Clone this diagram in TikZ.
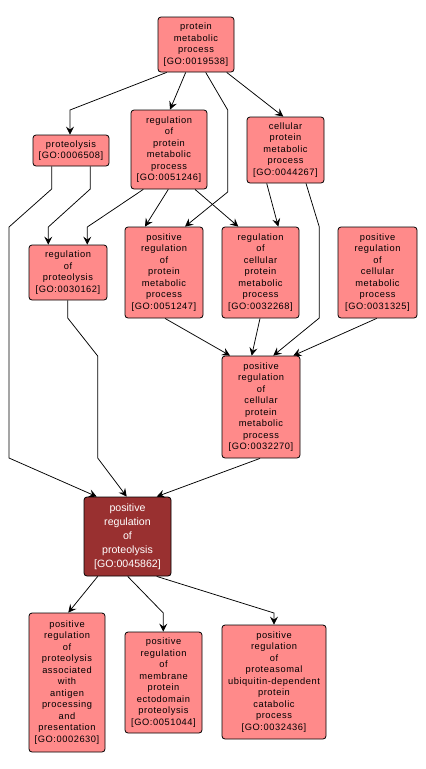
\documentclass[tikz,border=0pt]{standalone}
\usepackage{fontspec}
\setmainfont{Liberation Sans}
\newfontfamily\gofont[LetterSpace=6]{Liberation Sans}
\usetikzlibrary{arrows.meta}
\definecolor{golight}{RGB}{255,138,138}
\definecolor{godarkfill}{RGB}{153,48,48}
\tikzset{
  gobox/.style={draw=black, line width=0.8pt, rounded corners=3pt, fill=golight, align=center, inner sep=0pt, font=\gofont\fontsize{9.3}{11.5}\selectfont, text=black},
  godark/.style={gobox, fill=godarkfill, text=white, font=\fontsize{10.6}{14}\selectfont},
  goarrow/.style={draw=black, line width=0.75pt, -{Stealth[length=8pt,width=8pt,inset=3pt]}}
}
\begin{document}
\begin{tikzpicture}[x=1pt,y=-1pt]
\useasboundingbox (0,0) rectangle (426,769);
\node[gobox, minimum width=76pt, minimum height=55pt] (n19538) at (196,44.5) {protein\\metabolic\\process\\{[GO:0019538]}};
\node[gobox, minimum width=76pt, minimum height=31pt] (n6508) at (71,150.5) {proteolysis\\{[GO:0006508]}};
\node[gobox, minimum width=76pt, minimum height=79pt] (n51246) at (169,149.5) {regulation\\of\\protein\\metabolic\\process\\{[GO:0051246]}};
\node[gobox, minimum width=77pt, minimum height=66pt] (n44267) at (285.5,150) {cellular\\protein\\metabolic\\process\\{[GO:0044267]}};
\node[gobox, minimum width=78pt, minimum height=55pt] (n30162) at (68,272.5) {regulation\\of\\proteolysis\\{[GO:0030162]}};
\node[gobox, minimum width=78pt, minimum height=91pt] (n51247) at (164,272.5) {positive\\regulation\\of\\protein\\metabolic\\process\\{[GO:0051247]}};
\node[gobox, minimum width=77pt, minimum height=91pt] (n32268) at (260.5,272.5) {regulation\\of\\cellular\\protein\\metabolic\\process\\{[GO:0032268]}};
\node[gobox, minimum width=79pt, minimum height=91pt] (n31325) at (377.5,272.5) {positive\\regulation\\of\\cellular\\metabolic\\process\\{[GO:0031325]}};
\node[gobox, minimum width=78pt, minimum height=102pt] (n32270) at (261,407) {positive\\regulation\\of\\cellular\\protein\\metabolic\\process\\{[GO:0032270]}};
\node[godark, minimum width=87pt, minimum height=79pt] (n45862) at (127.5,536.5) {positive\\regulation\\of\\proteolysis\\{[GO:0045862]}};
\node[gobox, minimum width=76pt, minimum height=139pt] (n2630) at (67,682.5) {positive\\regulation\\of\\proteolysis\\associated\\with\\antigen\\processing\\and\\presentation\\{[GO:0002630]}};
\node[gobox, minimum width=77pt, minimum height=101pt] (n51044) at (163.5,682.5) {positive\\regulation\\of\\membrane\\protein\\ectodomain\\proteolysis\\{[GO:0051044]}};
\node[gobox, minimum width=104pt, minimum height=114pt] (n32436) at (274,682) {positive\\regulation\\of\\proteasomal\\ubiquitin-dependent\\protein\\catabolic\\process\\{[GO:0032436]}};

\draw[goarrow] ([xshift=-29.3pt]n19538.south) -- (70,110) -- ([xshift=-1pt]n6508.north);
\draw[goarrow] ([xshift=-10.3pt]n19538.south) -- ([xshift=1pt]n51246.north);
\draw[goarrow] ([xshift=9.7pt]n19538.south) -- (227.7,110) -- (227.7,192) -- ([xshift=21pt]n51247.north);
\draw[goarrow] ([xshift=30.7pt]n19538.south) -- ([xshift=-2.2pt]n44267.north);
\draw[goarrow] ([xshift=-19.3pt]n6508.south) -- (51.7,189) -- (9,227) -- (9,458) -- ([xshift=-30.8pt]n45862.north);
\draw[goarrow] ([xshift=19.3pt]n6508.south) -- (90.3,189) -- (48.3,227) -- ([xshift=-19.7pt]n30162.north);
\draw[goarrow] ([xshift=-25.7pt]n51246.south) -- (87.3,227) -- ([xshift=19.3pt]n30162.north);
\draw[goarrow] ([xshift=-0.7pt]n51246.south) -- ([xshift=-19pt]n51247.north);
\draw[goarrow] ([xshift=26pt]n51246.south) -- ([xshift=-22.2pt]n32268.north);
\draw[goarrow] ([xshift=-18.8pt]n44267.south) -- ([xshift=17.8pt]n32268.north);
\draw[goarrow] ([xshift=20.5pt]n44267.south) -- (319.3,227) -- (319.3,318) -- ([xshift=12.3pt]n32270.north);
\draw[goarrow] ([xshift=1pt]n51247.south) -- ([xshift=-31pt]n32270.north);
\draw[goarrow] ([xshift=-0.5pt]n32268.south) -- ([xshift=-9.3pt]n32270.north);
\draw[goarrow] ([xshift=-0.8pt]n31325.south) -- ([xshift=32.3pt]n32270.north);
\draw[goarrow] ([xshift=-0.3pt]n30162.south) -- (67.7,318) -- (97.7,356) -- (97.7,458) -- ([xshift=-0.8pt]n45862.north);
\draw[goarrow] ([xshift=-1pt]n32270.south) -- ([xshift=29.2pt]n45862.north);
\draw[goarrow] ([xshift=-29.8pt]n45862.south) -- ([xshift=1.3pt]n2630.north);
\draw[goarrow] ([xshift=0.2pt]n45862.south) -- (163.3,613) -- ([xshift=-0.2pt]n51044.north);
\draw[goarrow] ([xshift=29.2pt]n45862.south) -- (274,613) -- (n32436.north);
\end{tikzpicture}
\end{document}
